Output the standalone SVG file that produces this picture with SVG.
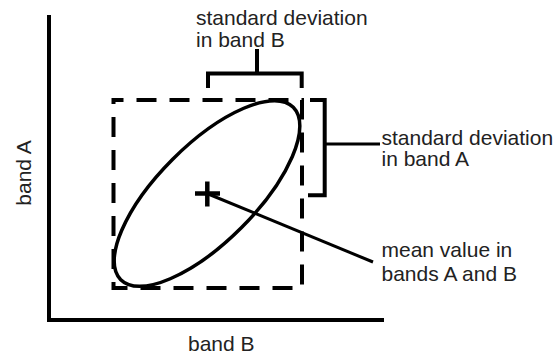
<svg xmlns="http://www.w3.org/2000/svg" width="556" height="356" viewBox="0 0 556 356">
<style>
  text { font-family: "Liberation Sans", Arial, sans-serif; font-size: 21px; fill: #222; }
  .ln { stroke: #000; fill: none; stroke-linecap: butt; stroke-linejoin: miter; }
</style>
<rect width="556" height="356" fill="#fff"/>
<g id="axes">
  <line class="ln" x1="49" y1="15" x2="49" y2="322" stroke-width="4"/>
  <line class="ln" x1="47" y1="320" x2="384" y2="320" stroke-width="4"/>
  <text x="188" y="351">band B</text>
  <text transform="translate(31,173) rotate(-90)" text-anchor="middle">band A</text>
</g>
<g id="stdbox">
  <rect class="ln" x="113.5" y="100" width="188.5" height="188" stroke-width="4" stroke-dasharray="20 13" stroke-dashoffset="10"/>
</g>
<g id="ellipse">
  <ellipse class="ln" cx="207" cy="193.5" rx="122" ry="48.5" transform="rotate(-45 207 193.5)" stroke-width="3.5"/>
</g>
<g id="mean">
  <line class="ln" x1="195" y1="193.5" x2="220" y2="193.5" stroke-width="4.5"/>
  <line class="ln" x1="207.3" y1="181.5" x2="207.3" y2="206.5" stroke-width="4.5"/>
</g>
<g id="connectors">
  <polyline class="ln" points="208,88 208,73.5 301.7,73.5 301.7,88" stroke-width="4"/>
  <line class="ln" x1="257" y1="49" x2="257" y2="73.5" stroke-width="4"/>
  <polyline class="ln" points="310,100 324.7,100 324.7,195.3 308,195.3" stroke-width="4"/>
  <line class="ln" x1="324.7" y1="144" x2="380" y2="144" stroke-width="3"/>
  <line class="ln" x1="207" y1="193.5" x2="373" y2="262" stroke-width="3"/>
</g>
<g id="label-b">
  <text x="196" y="25">standard deviation</text>
  <text x="196" y="47">in band B</text>
</g>
<g id="label-a">
  <text x="381.5" y="145">standard deviation</text>
  <text x="381.5" y="166">in band A</text>
</g>
<g id="label-mean">
  <text x="381.5" y="257">mean value in</text>
  <text x="381.5" y="281">bands A and B</text>
</g>
</svg>
